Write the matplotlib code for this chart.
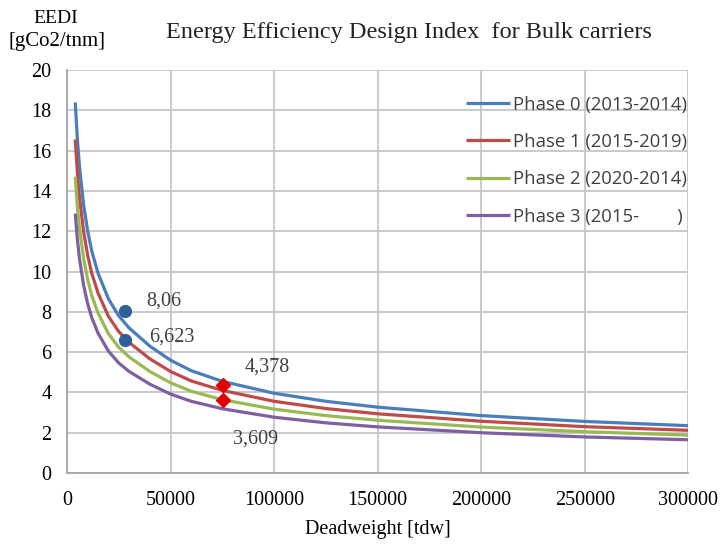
import matplotlib
matplotlib.use("Agg")
import matplotlib.pyplot as plt

dwt = [4000, 5000, 6000, 8000, 10000, 12000, 15000, 20000, 25000, 30000, 40000,
       50000, 60000, 75000, 100000, 125000, 150000, 200000, 250000, 300000]
phase0 = [18.40, 16.60, 15.25, 13.33, 12.00, 11.00, 9.92, 8.65, 7.80, 7.20, 6.30,
          5.60, 5.08, 4.55, 3.96, 3.56, 3.27, 2.85, 2.56, 2.35]
phase1 = [16.56, 14.94, 13.72, 12.00, 10.80, 9.90, 8.93, 7.78, 7.02, 6.48, 5.67,
          5.04, 4.57, 4.10, 3.56, 3.20, 2.94, 2.57, 2.30, 2.12]
phase2 = [14.72, 13.28, 12.20, 10.66, 9.60, 8.80, 7.94, 6.92, 6.24, 5.76, 5.04,
          4.48, 4.06, 3.64, 3.17, 2.85, 2.62, 2.28, 2.05, 1.88]
phase3 = [12.88, 11.62, 10.67, 9.33, 8.40, 7.70, 6.94, 6.05, 5.46, 5.04, 4.41,
          3.92, 3.56, 3.19, 2.77, 2.49, 2.29, 2.00, 1.79, 1.65]
series_labels = ["Phase 0 (2013-2014)", "Phase 1 (2015-2019)",
                 "Phase 2 (2020-2014)", "Phase 3 (2015-        )"]
series_colors = ["#4A7EBB", "#BE4B48", "#98B954", "#7D60A0"]

dot_x = [28000, 28000]
dot_y = [8.06, 6.623]
dot_labels = ["8,06", "6,623"]
diamond_x = [75200, 75200]
diamond_y = [4.378, 3.609]
diamond_labels = ["4,378", "3,609"]

xticks = [0, 50000, 100000, 150000, 200000, 250000, 300000]
yticks = [0, 2, 4, 6, 8, 10, 12, 14, 16, 18, 20]

fig = plt.figure(figsize=(7.25, 5.44), dpi=100)
ax = fig.add_axes([0.0924, 0.1305, 0.857, 0.7405])

grid_c = "#C6C6C6"
for i, ys in enumerate([phase0, phase1, phase2, phase3]):
    ax.plot(dwt, ys, color=series_colors[i], lw=2.3, label=series_labels[i],
            solid_capstyle="butt", zorder=3)

ax.plot(dot_x, dot_y, "o", color="#2F5F98", ms=8.5, zorder=4)
ax.plot(diamond_x, diamond_y, "D", color="#E00000", ms=7, zorder=4)

serif = "Liberation Serif"
afs = 14.5
ax.annotate(dot_labels[0], (dot_x[0], dot_y[0]), xytext=(15.5, 7), textcoords="offset points",
            fontsize=afs, family=serif, color="#404040", va="center", ha="left")
ax.annotate(dot_labels[1], (dot_x[1], dot_y[1]), xytext=(17.5, 2), textcoords="offset points",
            fontsize=afs, family=serif, color="#404040", va="center", ha="left")
ax.annotate(diamond_labels[0], (diamond_x[0], diamond_y[0]), xytext=(16, 12.5), textcoords="offset points",
            fontsize=afs, family=serif, color="#404040", va="center", ha="left")
ax.annotate(diamond_labels[1], (diamond_x[1], diamond_y[1]), xytext=(7.5, -28), textcoords="offset points",
            fontsize=afs, family=serif, color="#404040", va="center", ha="left")

ax.set_xlim(0, 300000)
ax.set_ylim(0, 20)
ax.set_xticks(xticks)
ax.set_yticks(yticks)
ax.set_xticklabels([str(v) for v in xticks], family=serif, fontsize=14.5)
ax.set_yticklabels([str(v) for v in yticks], family=serif, fontsize=14.5)
ax.tick_params(axis="y", length=0, pad=11, colors="#000000")
ax.tick_params(axis="x", length=0, pad=13, colors="#000000")
ax.grid(True, color=grid_c, lw=1.3, zorder=0)
ax.set_axisbelow(True)
for s in ["top", "right"]:
    ax.spines[s].set_visible(False)
for s in ["left", "bottom"]:
    ax.spines[s].set_color("#A6A6A6")
    ax.spines[s].set_linewidth(1.3)

leg = ax.legend(loc="upper right", bbox_to_anchor=(0.998, 0.937), frameon=False,
                prop={"family": "Open Sans", "size": 13.3}, handlelength=2.4,
                handletextpad=0.15, labelspacing=1.05, borderaxespad=0.0,
                borderpad=0.0)
for t in leg.get_texts():
    t.set_color("#404040")

fig.text(0.564, 0.941, "Energy Efficiency Design Index  for Bulk carriers",
         ha="center", va="center", family=serif, fontsize=17.5, color="#222222")
fig.text(0.077, 0.966, "EEDI", ha="center", va="center", family=serif, fontsize=14)
fig.text(0.078, 0.923, "[gCo2/tnm]", ha="center", va="center", family=serif, fontsize=15)
fig.text(0.521, 0.026, "Deadweight [tdw]", ha="center", va="center", family=serif, fontsize=14.5)

fig.savefig("out.png", dpi=100)
